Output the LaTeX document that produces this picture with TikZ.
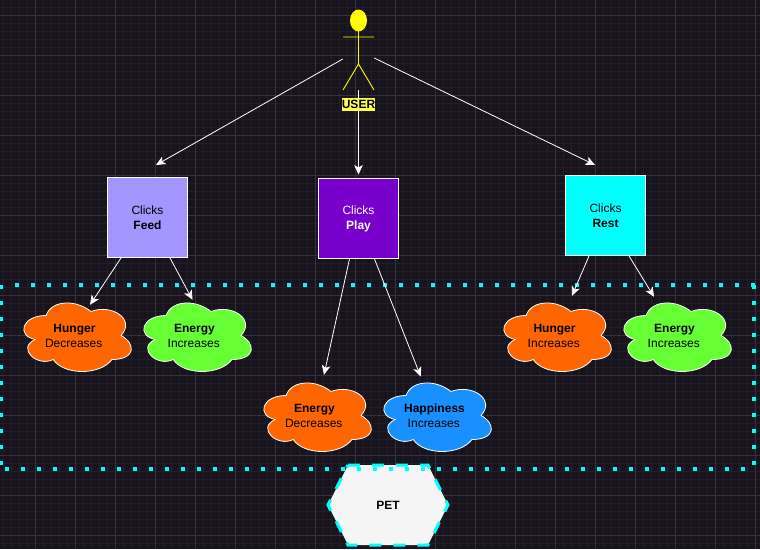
\documentclass[tikz,border=0pt]{standalone}
\usepackage{fontspec}
\setmainfont{Liberation Sans}
\usetikzlibrary{arrows.meta}
\definecolor{canvas}{HTML}{18141D}
\definecolor{gridmajor}{HTML}{36323B}
\definecolor{gridminor}{HTML}{221E27}
\definecolor{petfill}{HTML}{F5F5F5}
\definecolor{feedcol}{HTML}{A596FF}
\definecolor{playcol}{HTML}{7700CC}
\definecolor{restcol}{HTML}{00FFFF}
\definecolor{orangecol}{HTML}{FF6600}
\definecolor{greencol}{HTML}{66FF33}
\definecolor{bluecol}{HTML}{1890FF}
\definecolor{actorcol}{HTML}{FFFF00}
\definecolor{labelcol}{HTML}{FFFF4D}
\tikzset{
  flow/.style={draw=white,line width=.8pt,-{Stealth[inset=2.5pt,length=9.5pt,width=8.5pt]}},
  clickbox/.style={draw=white,line width=.9pt,minimum size=80pt,inner sep=0pt,align=center,font=\fontsize{12}{15}\selectfont},
  cloudtext/.style={minimum width=120pt,minimum height=80pt,inner sep=0pt,align=center,text=black,font=\fontsize{12}{15}\selectfont},
  actorline/.style={draw=actorcol,line width=.9pt},
  dots/.style={restcol,line width=4pt,dash pattern=on 4pt off 12pt},
}
\newcommand{\cloudpath}[2]{
  \begin{scope}[shift={#1},x=120pt,y=-80pt,shift={(-.5,-.5)}]
    \filldraw[fill=#2,draw=white,line width=.8pt] (.25,.25)
      .. controls (.05,.25) and (0,.5) .. (.16,.55)
      .. controls (0,.66) and (.18,.9) .. (.31,.8)
      .. controls (.4,1) and (.7,1) .. (.8,.8)
      .. controls (1,.8) and (1,.6) .. (.875,.5)
      .. controls (1,.3) and (.8,.1) .. (.625,.2)
      .. controls (.5,.05) and (.3,.05) .. (.25,.25) -- cycle;
  \end{scope}
}
\begin{document}
\begin{tikzpicture}[x=1pt,y=-1pt]
\useasboundingbox (0,0) rectangle (760,549);
\fill[canvas] (0,0) rectangle (760,549);
% grid
\foreach \i in {0,...,95} \draw[gridminor,line width=.7pt] ({3.5+8*\i},0) -- ({3.5+8*\i},549);
\foreach \i in {0,...,68} \draw[gridminor,line width=.7pt] (0,{7.5+8*\i}) -- (760,{7.5+8*\i});
\foreach \i in {0,...,18} \draw[gridmajor,line width=.7pt] ({35.5+40*\i},0) -- ({35.5+40*\i},549);
\foreach \i in {0,...,13} \draw[gridmajor,line width=.7pt] (0,{15.5+40*\i}) -- (760,{15.5+40*\i});
% pet
\filldraw[fill=petfill,draw=restcol,line width=3pt,dash pattern=on 12pt off 12pt]
  (348,465) -- (428,465) -- (448,505) -- (428,545) -- (348,545) -- (328,505) -- cycle;
\node[font=\bfseries\fontsize{12}{15}\selectfont,text=black] (pet) at (388,505) {PET};
% dotted area
\draw[dots] (15,285) -- (757,285);
\draw[dots] (754,465) -- (754,283);
\draw[dots] (745,469) -- (0,469);
\draw[dots] (1,285) -- (1,469);
% actor
\node[minimum width=31pt,minimum height=80pt,inner sep=0pt] (user) at (358.5,50) {};
\draw[actorline,fill=actorcol] (358.5,20.5) ellipse[x radius=8,y radius=10.5];
\draw[actorline] (358.5,31) -- (358.5,64) (343,37) -- (374,37) (343,90) -- (358.5,64) -- (374,90);
% boxes
\node[clickbox,fill=feedcol,text=black] (feed) at (147.5,217.5) {Clicks\\\textbf{Feed}};
\node[clickbox,fill=playcol,text=white] (play) at (358.5,218.5) {Clicks\\\textbf{Play}};
\node[clickbox,fill=restcol,text=black] (rest) at (605.5,215.5) {Clicks\\\textbf{Rest}};
% clouds
\foreach \nm/\cx/\cy/\col/\head/\sub in {hungerdown/76/335.5/orangecol/Hunger/Decreases,
  energyup/196/335.5/greencol/Energy/Increases, energydown/316/415.5/orangecol/Energy/Decreases,
  happyup/436/415.5/bluecol/Happiness/Increases, hungerup/556/335.5/orangecol/Hunger/Increases,
  energyrest/676/335.5/greencol/Energy/Increases}
{
  \cloudpath{(\cx,\cy)}{\col}
  \node[cloudtext] (\nm) at ({\cx-1.5},{\cy+.5}) {\textbf{\head}\\\sub\hspace*{1.5pt}};
}
% connectors
\draw[flow] ([yshift=-9pt]user.west) -- (156,165);
\draw[flow] (user.south) -- ([yshift=3.5pt]play.north);
\draw[flow] ([yshift=-8pt]user.east) -- (595,165);
\foreach \from/\fx/\to/\tx/\ty in {feed/-26.5/hungerdown/15.5/-9, feed/22.5/energyup/-2/-4,
  play/-9/energydown/9.5/1, play/16/happyup/-13.8/-.7,
  rest/-16.5/hungerup/17.5/0, rest/23.5/energyrest/-20.5/-1}
{
  \draw[flow] ([xshift=\fx pt]\from.south) -- ([xshift=\tx pt,yshift=\ty pt]\to.north);
}
% label sits on the arrow
\node[fill=labelcol,text=black,inner sep=0pt,minimum width=33pt,minimum height=13pt,font=\bfseries\fontsize{12}{13}\selectfont] (userlabel) at (358.5,104.5) {USER};
\end{tikzpicture}
\end{document}
